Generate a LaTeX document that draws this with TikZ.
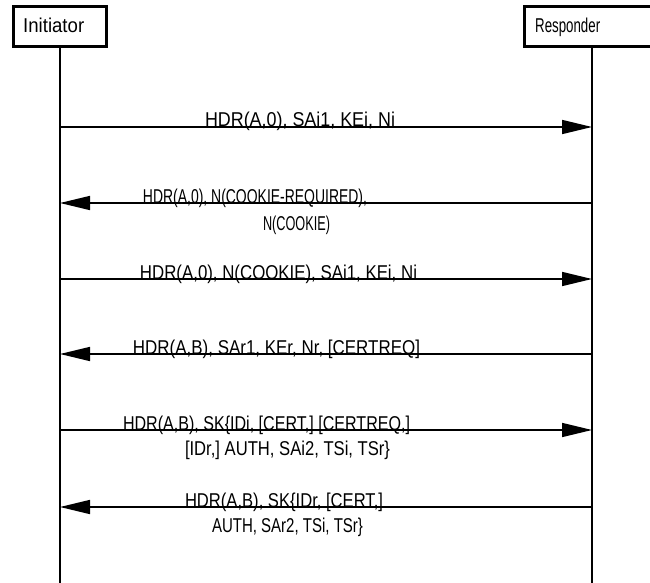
\documentclass[tikz,border=0pt]{standalone}
\usepackage{fontspec}
\setmainfont{Liberation Sans}
\usetikzlibrary{arrows.meta}
\newcommand\fitw[2]{\resizebox{#1pt}{\height}{#2}}
\begin{document}
\begin{tikzpicture}[x=1pt,y=-1pt,
  font=\fontsize{20}{24}\selectfont,
  actor/.style={draw,line width=3pt,minimum height=40pt,inner sep=0pt},
  actorname/.style={anchor=base west,inner sep=0pt},
  life/.style={line width=1.6pt},
  msg/.style={line width=1.6pt,-{Triangle[length=30pt,width=14pt]}},
  lbl/.style={anchor=base,inner sep=0pt}]
\clip (0,0) rectangle (650,583);
% actors
\node[actor,minimum width=93pt] (ini) at (60,26.5) {};
\node[actor,minimum width=136pt] (res) at (592,26.5) {};
\node[actorname] (initxt) at (23,33) {\fitw{61}{Initiator}};
\node[actorname] (restxt) at (535,33) {\fitw{65}{Responder}};
% lifelines
\coordinate (iniend) at (60,583);
\coordinate (resend) at (592,583);
\draw[life] (ini.south) -- (iniend);
\draw[life] (res.south) -- (resend);
% message end points
\foreach \n/\y in {1/127,2/203,3/279,4/354,5/430,6/507}{
  \coordinate (i\n) at (60,\y);
  \coordinate (r\n) at (592,\y);
}
% messages
\draw[msg] (i1) -- (r1);
\draw[msg] (r2) -- (i2);
\draw[msg] (i3) -- (r3);
\draw[msg] (r4) -- (i4);
\draw[msg] (i5) -- (r5);
\draw[msg] (r6) -- (i6);
% labels
\node[lbl] (m1) at (300,127) {\fitw{190}{HDR(A,0), SAi1, KEi, Ni}};
\node[lbl] (m2a) at (255,203) {\fitw{224}{HDR(A,0), N(COOKIE-REQUIRED),}};
\node[lbl] (m2b) at (296.5,230) {\fitw{67}{N(COOKIE)}};
\node[lbl] (m3) at (278.5,279) {\fitw{277}{HDR(A,0), N(COOKIE), SAi1, KEi, Ni}};
\node[lbl] (m4) at (276.5,354) {\fitw{287}{HDR(A,B), SAr1, KEr, Nr, [CERTREQ]}};
\node[lbl] (m5a) at (266.5,430) {\fitw{287}{HDR(A,B), SK\{IDi, [CERT,] [CERTREQ,]}};
\node[lbl] (m5b) at (287.5,455) {\fitw{205}{[IDr,] AUTH, SAi2, TSi, TSr\}}};
\node[lbl] (m6a) at (284,507) {\fitw{198}{HDR(A,B), SK\{IDr, [CERT,]}};
\node[lbl] (m6b) at (287.5,532) {\fitw{151}{AUTH, SAr2, TSi, TSr\}}};
\end{tikzpicture}
\end{document}
